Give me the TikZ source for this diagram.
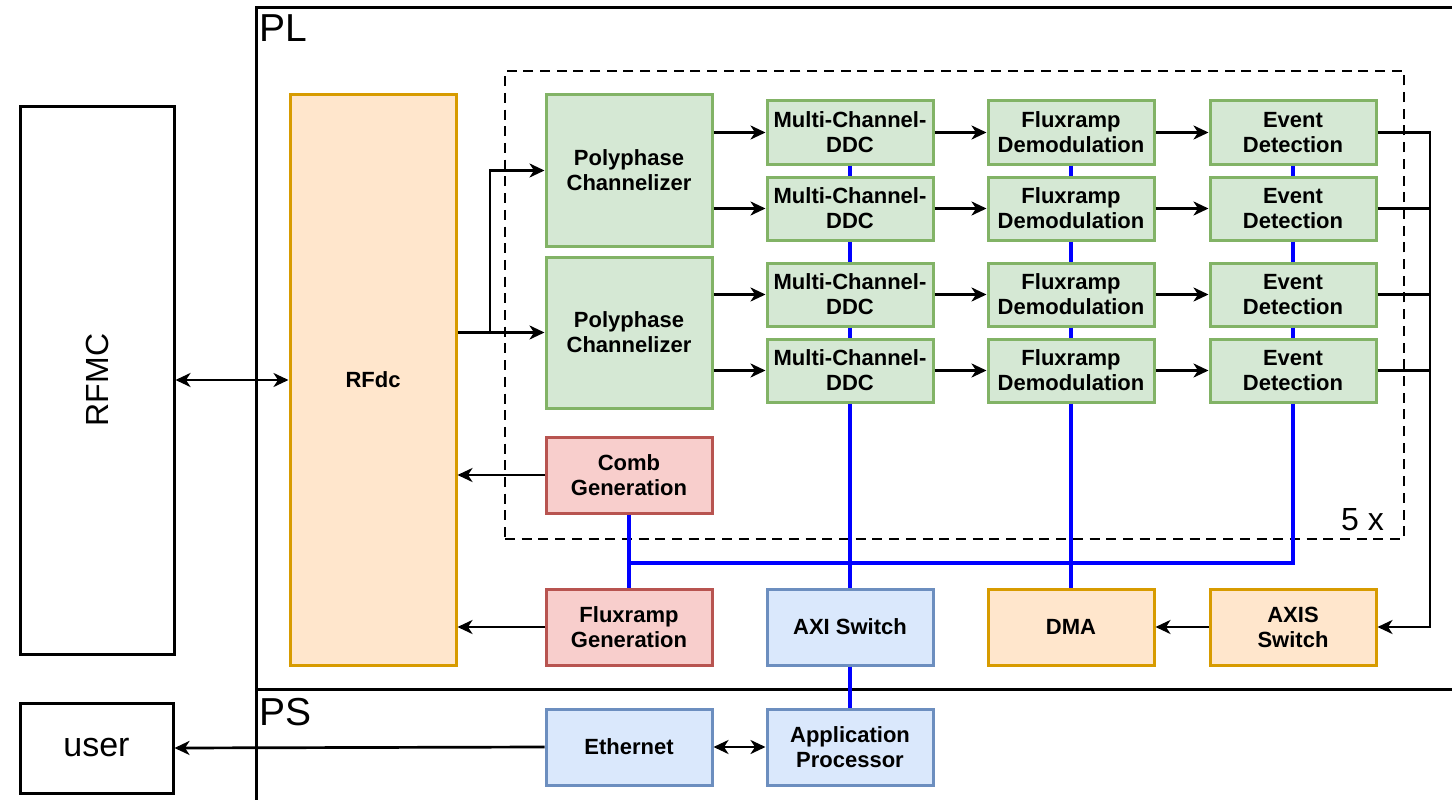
\documentclass[tikz,border=0pt]{standalone}
\usepackage{fontspec}
\setmainfont{Liberation Sans}
\usetikzlibrary{arrows.meta}
\definecolor{gfill}{HTML}{D5E8D4}\definecolor{gline}{HTML}{82B366}
\definecolor{ofill}{HTML}{FFE6CC}\definecolor{oline}{HTML}{D79B00}
\definecolor{rfill}{HTML}{F8CECC}\definecolor{rline}{HTML}{B85450}
\definecolor{bfill}{HTML}{DAE8FC}\definecolor{bline}{HTML}{6C8EBF}
\definecolor{busblue}{HTML}{0000FF}
\begin{document}
\begin{tikzpicture}[x=1pt,y=-1pt,
  blk/.style={draw, line width=3pt, minimum width=166pt, minimum height=63pt, align=center, inner sep=0pt,
    font=\fontsize{22}{25}\selectfont\bfseries},
  gbox/.style={blk, fill=gfill, draw=gline},
  obox/.style={blk, fill=ofill, draw=oline},
  rbox/.style={blk, fill=rfill, draw=rline},
  bbox/.style={blk, fill=bfill, draw=bline},
  big/.style={font=\fontsize{34}{40}\selectfont, inner sep=0pt},
  huge/.style={font=\fontsize{39}{44}\selectfont, inner sep=0pt},
  plain/.style={draw, line width=3pt, inner sep=0pt},
  frame/.style={line width=3pt},
  conn/.style={line width=2.7pt},
  arr/.style={conn, -{Stealth[length=15pt,width=14pt,inset=4.5pt]}},
  darr/.style={conn, {Stealth[length=15pt,width=14pt,inset=4.5pt]}-{Stealth[length=15pt,width=14pt,inset=4.5pt]}},
  bl/.style={draw=busblue, line width=3.2pt},
  rep/.style={draw, line width=2.7pt, dash pattern=on 10pt off 6.7pt}
]
\useasboundingbox (0,0) rectangle (1452,800);

% PL / PS frame
\draw[frame] (1452,8) -- (256,8) -- (256,800);
\draw[frame] (256,689) -- (1452,689);
\node[huge, anchor=base west] (pl) at (259,42) {PL};
\node[huge, anchor=base west] (ps) at (259,725) {PS};

% repeated region
\node[rep, minimum width=899pt, minimum height=468pt, inner sep=0pt] (reg) at (954.5,305) {};
\node[font=\fontsize{32}{38}\selectfont, inner sep=0pt, anchor=base east] (five) at (1384,530) {5 x};

% outside blocks
\node[plain, minimum width=154pt, minimum height=548pt] (rfmc) at (97,380) {};
\node[font=\fontsize{32}{38}\selectfont, inner sep=0pt, rotate=90] (rfmclbl) at (rfmc.center) {RFMC};
\node[plain, minimum width=153pt, minimum height=90pt, big] (user) at (96.5,748) {user};

% RFdc
\node[obox, minimum height=570pt] (rfdc) at (373,380) {RFdc};

% channelizers
\node[gbox, minimum height=151pt] (poly1) at (629,170.5) {Polyphase\\Channelizer};
\node[gbox, minimum height=151pt] (poly2) at (629,332.5) {Polyphase\\Channelizer};

% rows
\foreach \i/\y in {1/132.5,2/208.5,3/294.5,4/370.5}{
  \node[gbox] (ddc\i) at (850,\y) {Multi-Channel-\\DDC};
  \node[gbox] (fd\i) at (1071,\y) {Fluxramp\\Demodulation};
  \node[gbox] (ev\i) at (1293,\y) {Event\\Detection};
}

\node[rbox, minimum height=76pt] (comb) at (629,475) {Comb\\Generation};
\node[rbox, minimum height=76pt] (fgen) at (629,627) {Fluxramp\\Generation};
\node[bbox, minimum height=76pt] (axi) at (850,627) {AXI Switch};
\node[obox, minimum height=76pt] (dma) at (1071,627) {DMA};
\node[obox, minimum height=76pt] (axis) at (1293,627) {AXIS\\Switch};
\node[bbox, minimum height=76pt] (eth) at (629,747) {Ethernet};
\node[bbox, minimum height=76pt] (app) at (850,747) {Application\\Processor};

% blue buses
\draw[bl] (ddc1.south) -- (ddc2.north) (ddc2.south) -- (ddc3.north) (ddc3.south) -- (ddc4.north)
  (ddc4.south) -- (axi.north) (axi.south) -- (app.north);
\draw[bl] (fd1.south) -- (fd2.north) (fd2.south) -- (fd3.north) (fd3.south) -- (fd4.north)
  (fd4.south) -- (dma.north);
\draw[bl] (ev1.south) -- (ev2.north) (ev2.south) -- (ev3.north) (ev3.south) -- (ev4.north);
\coordinate (hb) at (0,563);
\draw[bl] (ev4.south) |- (comb.south |- hb);
\draw[bl] (comb.south) -- (fgen.north);

% black connectors
\draw[darr] (rfmc.east |- rfdc.west) -- (rfdc.west);
\draw[arr] (rfdc.east |- poly2.west) -- (poly2.west);
\coordinate (br) at (490,332.5);
\draw[arr] (br) |- (poly1.west);
\draw[arr] (poly1.east |- ddc1.west) -- (ddc1.west);
\draw[arr] (poly1.east |- ddc2.west) -- (ddc2.west);
\draw[arr] (poly2.east |- ddc3.west) -- (ddc3.west);
\draw[arr] (poly2.east |- ddc4.west) -- (ddc4.west);
\foreach \i in {1,2,3,4}{
  \draw[arr] (ddc\i.east) -- (fd\i.west);
  \draw[arr] (fd\i.east) -- (ev\i.west);
}
\coordinate (bus) at (1430,0);
\draw[arr] (ev1.east) -- (ev1.east -| bus) |- (axis.east);
\foreach \i in {2,3,4}{
  \draw[conn] (ev\i.east) -- (ev\i.east -| bus);
}
\draw[arr] (axis.west) -- (dma.east);
\draw[arr] (comb.west) -- (rfdc.east |- comb.west);
\draw[arr] (fgen.west) -- (rfdc.east |- fgen.west);
\draw[arr] (eth.west) -- (user.east);
\draw[darr] (eth.east) -- (app.west);
\end{tikzpicture}
\end{document}
